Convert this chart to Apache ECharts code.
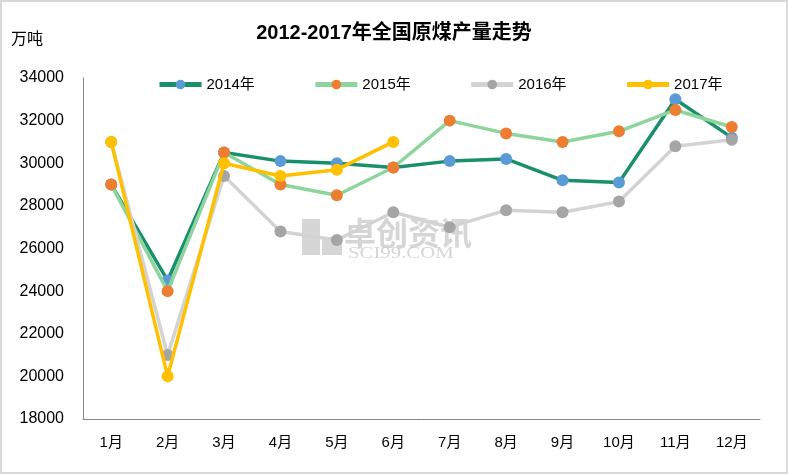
<!DOCTYPE html>
<html><head><meta charset="utf-8">
<script src="https://cdn.jsdelivr.net/npm/echarts@6/dist/echarts.min.js"></script>
<style>html,body{margin:0;padding:0;background:#fff}#c{width:788px;height:474px}</style>
</head><body><div id="c"></div>
<script>
var months = ['1月','2月','3月','4月','5月','6月','7月','8月','9月','10月','11月','12月'];
var s2014 = [29000,24500,30500,30100,30000,29800,30100,30200,29200,29100,33000,31200];
var s2015 = [29000,24000,30500,29000,28500,29800,32000,31400,31000,31500,32500,31700];
var s2016 = [31000,21000,29400,26800,26400,27700,27000,27800,27700,28200,30800,31100];
var s2017 = [31000,20000,30000,29400,29700,31000];
var seriesNames = ['2014年','2015年','2016年','2017年'];
var lineColors = ['#1a8f6c','#8dd59d','#d3d3d3','#ffc000'];
var markColors = ['#5b9bd5','#ed7d31','#a5a5a5','#ffc000'];
var allData = [s2014,s2015,s2016,s2017];

var font = '"Liberation Sans","Noto Sans CJK SC",sans-serif';
var chart = echarts.init(document.getElementById('c'));
var series = allData.map(function(d,i){
  return {
    name: seriesNames[i], type:'line', data:d,
    symbol:'circle', symbolSize:12,
    lineStyle:{color:lineColors[i], width:3.5},
    itemStyle:{color:markColors[i]},
    z: 2+i, animation:false
  };
});
var wm = 'rgba(200,200,200,0.75)';
chart.setOption({
  backgroundColor:'#fff',
  animation:false,
  title:{text:'2012-2017年全国原煤产量走势', left:'center', top:18,
    textStyle:{fontFamily:font, fontSize:20, fontWeight:'bold', color:'#000'}},
  legend:{top:72, left:152, itemWidth:42, itemHeight:12, itemGap:58,
    textStyle:{fontFamily:font, fontSize:15, color:'#000'},
    data:seriesNames.map(function(n,i){return {name:n, itemStyle:{color:markColors[i]}, lineStyle:{color:lineColors[i], width:5}};})
  },
  grid:{left:83, right:28, top:78, bottom:55},
  xAxis:{type:'category', data:months, boundaryGap:true,
    axisLine:{lineStyle:{color:'#868686', width:1}}, axisTick:{show:false},
    axisLabel:{fontFamily:font, fontSize:15, color:'#000', margin:16}},
  yAxis:{type:'value', min:18000, max:34000, interval:2000,
    name:'万吨', nameLocation:'end', nameGap:0,
    nameTextStyle:{fontFamily:font, fontSize:16, color:'#000', align:'left', padding:[0,0,30,-72]},
    axisLine:{show:true, lineStyle:{color:'#868686', width:1}}, axisTick:{show:false},
    splitLine:{show:false},
    axisLabel:{fontFamily:font, fontSize:16, color:'#000', margin:19, formatter:function(v){return String(v);}}},
  graphic:[
    {type:'rect', shape:{x:1,y:1,width:786,height:472}, style:{fill:'none', stroke:'#d9d9d9', lineWidth:2}, z:100},
    {type:'group', left:302, top:217, z:0, silent:true, children:[
      {type:'rect', shape:{x:0,y:0,width:18,height:36}, style:{fill:wm}},
      {type:'rect', shape:{x:20,y:18,width:20,height:18}, style:{fill:wm}},
      {type:'text', x:42, y:-2, style:{text:'卓创资讯', font:'bold 32px "Noto Sans CJK SC"', fill:wm}},
      {type:'text', x:46, y:27, scaleX:1.3, style:{text:'SCI99.COM', font:'16px "Liberation Serif"', fill:wm}}
    ]}
  ],
  series: series
});
</script></body></html>
